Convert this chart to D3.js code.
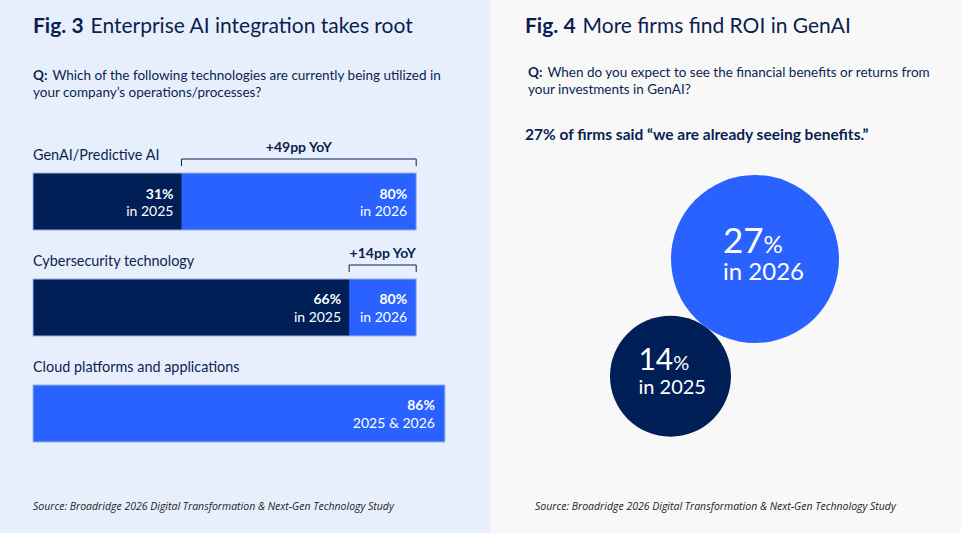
<!DOCTYPE html>
<html>
<head>
<meta charset="utf-8">
<script src="https://cdn.jsdelivr.net/npm/d3@7"></script>
<style>
  body { margin: 0; background: #f8f8f9; }
  svg { display: block; font-family: Lato, "Open Sans", sans-serif; }
</style>
</head>
<body>
<div id="chart"></div>
<script>
// Fig. 3 data
const categories = ["GenAI/Predictive AI", "Cybersecurity technology", "Cloud platforms and applications"];
const values2025 = [31, 66, 86];
const values2026 = [80, 80, 86];
const changeLabels = ["+49pp YoY", "+14pp YoY", null];

// Fig. 4 data
const roiYears = ["2025", "2026"];
const roiValues = [14, 27];

const W = 961, H = 533;
const navy = "#001f57", blue = "#2962ff", ink = "#0b1f4f";

const svg = d3.select("#chart").append("svg")
    .attr("width", W)
    .attr("height", H);

// panel backgrounds
svg.append("rect").attr("width", 490).attr("height", H).attr("fill", "#e8effc");
svg.append("rect").attr("x", 490).attr("width", W - 490).attr("height", H).attr("fill", "#f8f8f9");

// ---- titles and questions ----
function title(x, fig, text) {
    const t = svg.append("text").attr("x", x).attr("y", 33)
        .attr("fill", ink).style("font-size", "21px");
    t.append("tspan").style("font-weight", 700).text(fig);
    t.append("tspan").attr("dx", 7).text(text);
}
title(33, "Fig. 3", "Enterprise AI integration takes root");
title(525, "Fig. 4", "More firms find ROI in GenAI");

function question(x, y, lines) {
    const t = svg.append("text").attr("fill", ink).style("font-size", "13.5px");
    lines.forEach(function (line, i) {
        const ts = t.append("tspan").attr("x", x).attr("y", y + i * 17);
        if (i == 0) {
            ts.append("tspan").style("font-weight", 700).text("Q:");
            ts.append("tspan").attr("dx", 5).text(line);
        } else {
            ts.text(line);
        }
    });
}
question(33, 80, ["Which of the following technologies are currently being utilized in",
    "your company\u2019s operations/processes?"]);
question(528, 77, ["When do you expect to see the financial benefits or returns from",
    "your investments in GenAI?"]);

svg.append("text").attr("x", 525).attr("y", 140)
    .attr("fill", ink).style("font-size", "15.5px").style("font-weight", 700)
    .text("27% of firms said \u201cwe are already seeing benefits.\u201d");

// sources
[33, 535].forEach(function (x) {
    svg.append("text").attr("x", x).attr("y", 510)
        .attr("fill", "#222").style("font-family", "'Open Sans', sans-serif")
        .style("font-size", "10.5px").style("font-style", "italic")
        .text("Source: Broadridge 2026 Digital Transformation & Next-Gen Technology Study");
});

// ---- Fig. 3 bars ----
const x = d3.scaleLinear().domain([0, 100]).range([33, 512]);
const y = d3.scaleBand().domain(categories).range([173, 442]).paddingInner(0.462);
const bh = y.bandwidth();

const rows = categories.map(function (c, i) {
    return { cat: c, v25: values2025[i], v26: values2026[i], change: changeLabels[i] };
});

const row = svg.selectAll(".row").data(rows).enter().append("g").attr("class", "row");

row.append("text")
    .attr("x", x(0)).attr("y", d => y(d.cat) - 13)
    .attr("fill", ink).style("font-size", "14.4px")
    .text(d => d.cat);

row.append("rect")
    .attr("x", x(0)).attr("y", d => y(d.cat))
    .attr("width", d => x(d.v26) - x(0)).attr("height", bh)
    .attr("fill", blue);

row.filter(d => d.v25 < d.v26).append("rect")
    .attr("x", x(0)).attr("y", d => y(d.cat))
    .attr("width", d => x(d.v25) - x(0)).attr("height", bh)
    .attr("fill", navy);

row.append("rect")
    .attr("x", x(0)).attr("y", d => y(d.cat))
    .attr("width", d => x(Math.max(d.v25, d.v26)) - x(0)).attr("height", bh)
    .attr("fill", "none").attr("stroke", "#9db4ea").attr("stroke-width", 1);

// value labels inside bars
function valueLabel(sel, xFn, top, sub) {
    const t = sel.append("text").attr("text-anchor", "end").attr("fill", "#fff").style("font-size", "14px");
    t.append("tspan").attr("x", xFn).attr("y", d => y(d.cat) + 25.5)
        .style("font-weight", 700).text(top);
    t.append("tspan").attr("x", xFn).attr("y", d => y(d.cat) + 43).text(sub);
}
const changed = row.filter(d => d.v25 < d.v26);
valueLabel(changed, d => x(d.v25) - 8, d => d.v25 + "%", "in 2025");
valueLabel(changed, d => x(d.v26) - 9, d => d.v26 + "%", "in 2026");
valueLabel(row.filter(d => d.v25 == d.v26), d => x(d.v26) - 10, d => d.v26 + "%", "2025 & 2026");

// YoY brackets
const br = row.filter(d => d.change);
br.append("path")
    .attr("d", function (d) {
        const top = y(d.cat) - 14;
        return "M" + x(d.v25) + "," + (top + 7) + "V" + top + "H" + x(d.v26) + "V" + (top + 7);
    })
    .attr("fill", "none").attr("stroke", ink).attr("stroke-width", 1);
br.append("text")
    .attr("x", d => (x(d.v25) + x(d.v26)) / 2).attr("y", d => y(d.cat) - 21)
    .attr("text-anchor", "middle").attr("fill", ink)
    .style("font-size", "14px").style("font-weight", 700)
    .text(d => d.change);

// ---- Fig. 4 bubbles ----
const r = d3.scaleSqrt().domain([0, d3.max(roiValues)]).range([0, 84]);
const big = { x: 755, y: 259 };
const angle = -54.2 * Math.PI / 180;
const bubbles = roiYears.map(function (yr, i) {
    return { year: yr, value: roiValues[i], r: r(roiValues[i]) };
});
const rBig = r(d3.max(roiValues));
bubbles.forEach(function (b) {
    if (b.r == rBig) { b.cx = big.x; b.cy = big.y; }
    else {
        b.cx = big.x - (rBig + b.r) * Math.cos(angle);
        b.cy = big.y - (rBig + b.r) * Math.sin(angle);
    }
});

const fonts = { "2025": [30, 20, 18], "2026": [35, 24, 21] };

const bub = svg.selectAll(".bubble").data(bubbles).enter().append("g").attr("class", "bubble");
bub.append("circle")
    .attr("cx", d => d.cx).attr("cy", d => d.cy).attr("r", d => d.r)
    .attr("fill", d => d.year == "2026" ? blue : navy);

const bt = bub.append("text").attr("fill", "#fff");
const num = bt.append("tspan").attr("x", d => d.cx - 32).attr("y", d => d.cy - 6)
    .style("font-size", d => fonts[d.year][0] + "px");
num.append("tspan").text(d => d.value);
num.append("tspan").style("font-size", d => fonts[d.year][1] + "px").text("%");
bt.append("tspan").attr("x", d => d.cx - 32).attr("y", d => d.cy + fonts[d.year][2])
    .style("font-size", d => fonts[d.year][1] + "px")
    .text(d => "in " + d.year);
</script>
</body>
</html>
